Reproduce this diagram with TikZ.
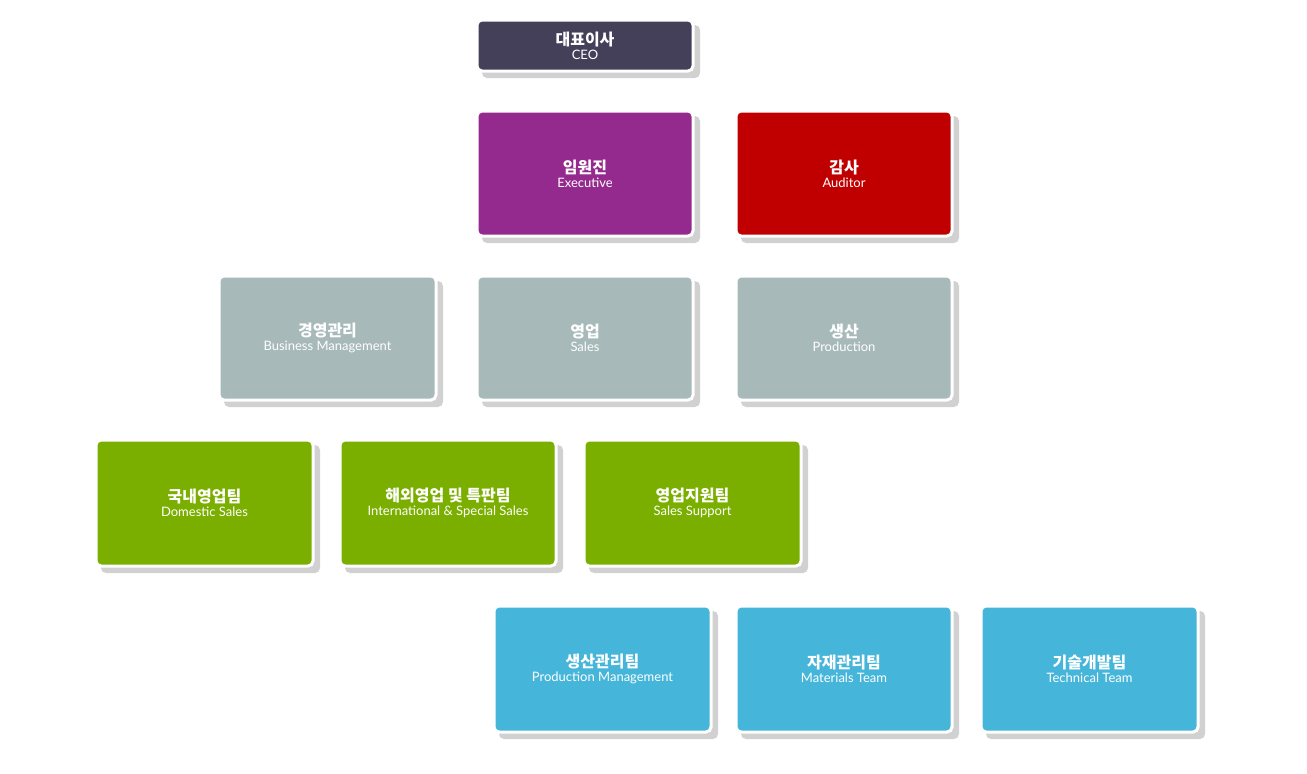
\documentclass[tikz,border=0pt]{standalone}
\usepackage{fontspec}
\setmainfont{Lato}
\newfontfamily\krfont{Noto Sans CJK KR}
\usetikzlibrary{positioning}
\definecolor{ceoC}{HTML}{44405A}
\definecolor{exeC}{HTML}{952A8E}
\definecolor{audC}{HTML}{C00000}
\definecolor{divC}{HTML}{A7B9B9}
\definecolor{teamC}{HTML}{7AAF00}
\definecolor{prodC}{HTML}{45B5DA}
\tikzset{
  orgbox/.style={draw=white, line width=3pt, rounded corners=5pt, text=white, align=center, inner sep=0pt},
  shade/.style={fill=black!18, rounded corners=5pt}
}
% #1 name, #2 colour, #3 x0, #4 y0, #5 x1, #6 y1, #7 korean, #8 english
\newcommand\orgunit[8]{
  \fill[shade] (#3+5,#4+5) rectangle (#5+7,#6+7);
  \draw[orgbox, fill=#2] (#3,#4) rectangle (#5,#6);
  \node[text=white, align=center] (#1) at ({(#3+#5)/2},{(#4+#6)/2})
    {{\krfont\bfseries\fontsize{16}{18}\selectfont #7}\\[2pt]{\fontsize{13}{15}\selectfont #8}};
}
\begin{document}
\begin{tikzpicture}[x=1pt,y=-1pt]
  \useasboundingbox (0,0) rectangle (1307,774);
  % top
  \orgunit{ceo}{ceoC}{477}{20}{693}{71}{대표이사}{CEO}
  \orgunit{exe}{exeC}{477}{111}{693}{236}{임원진}{Executive}
  \orgunit{aud}{audC}{736}{111}{952}{236}{감사}{Auditor}
  % divisions
  \orgunit{mgmt}{divC}{219}{276}{436}{400}{경영관리}{Business Management}
  \orgunit{sales}{divC}{477}{276}{693}{400}{영업}{Sales}
  \orgunit{prod}{divC}{736}{276}{952}{400}{생산}{Production}
  % sales teams
  \orgunit{dom}{teamC}{96}{440}{313}{566}{국내영업팀}{Domestic Sales}
  \orgunit{intl}{teamC}{340}{440}{556}{566}{해외영업 및 특판팀}{International \& Special Sales}
  \orgunit{supp}{teamC}{584}{440}{801}{566}{영업지원팀}{Sales Support}
  % production teams
  \orgunit{pm}{prodC}{494}{606}{711}{732}{생산관리팀}{Production Management}
  \orgunit{mat}{prodC}{736}{606}{952}{732}{자재관리팀}{Materials Team}
  \orgunit{tech}{prodC}{981}{606}{1198}{732}{기술개발팀}{Technical Team}
\end{tikzpicture}
\end{document}
